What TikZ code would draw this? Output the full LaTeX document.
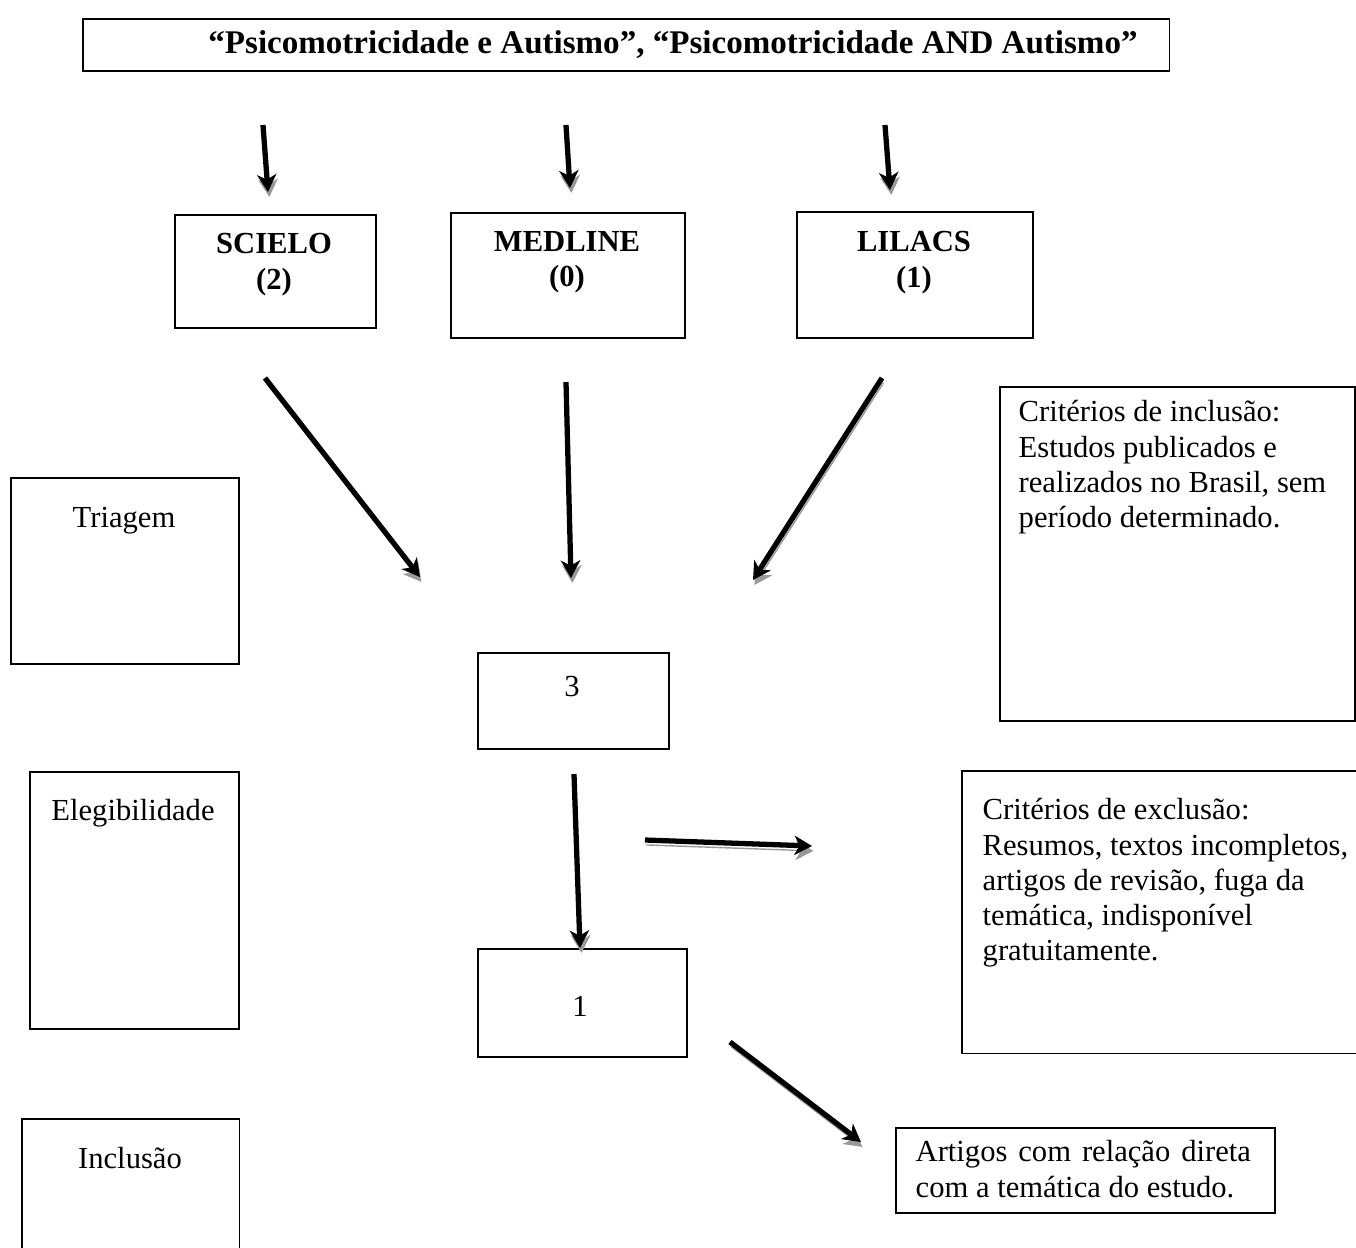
\documentclass[tikz,border=0pt]{standalone}
\usepackage{fontspec}
\setmainfont{Liberation Serif}
\usetikzlibrary{arrows.meta}
\newcommand{\fsz}{\fontsize{8.7}{10}\selectfont}

\begin{document}
\begin{tikzpicture}[x=0.01cm, y=-0.01cm,
    nodes={font=\fsz},
    box/.style={draw, line width=0.5pt, inner sep=0pt, anchor=north west},
    openbox/.style={inner sep=0pt, anchor=north west},
    txt/.style={inner sep=0pt, align=center, anchor=north},
    btxt/.style={txt, font=\fsz\bfseries},
    ltxt/.style={inner sep=0pt, align=left, anchor=north west},
    arr/.style={line width=1.5pt, -{Stealth[length=5pt,width=5.5pt,inset=1.5pt]},
        preaction={draw=black!40, transform canvas={shift={(0.4pt,-1.4pt)}}}}]
    \useasboundingbox (0,0) rectangle (1356,1247);

    % search terms and databases
    \node[box, minimum width=10.86cm, minimum height=0.52cm] (termos) at (82,18) {};
    \node[inner sep=0pt, font=\fontsize{9.4}{11}\selectfont\bfseries] (termostxt) at (673,45)
        {“Psicomotricidade e Autismo”, “Psicomotricidade AND Autismo”};
    \node[box, minimum width=2.01cm, minimum height=1.13cm] (scielo) at (174,214) {};
    \node[box, minimum width=2.34cm, minimum height=1.25cm] (medline) at (450,212) {};
    \node[box, minimum width=2.36cm, minimum height=1.26cm] (lilacs) at (796,211) {};
    \node[btxt] (scielotxt) at (274,233) {SCIELO\\(2)};
    \node[btxt] (medlinetxt) at (567,231) {MEDLINE\\(0)};
    \node[btxt] (lilacstxt) at (914,231) {LILACS\\(1)};

    % stages on the left
    \node[box, minimum width=2.28cm, minimum height=1.86cm] (triagem) at (10,477) {};
    \node[box, minimum width=2.09cm, minimum height=2.57cm] (elegib) at (29,771) {};
    \node[openbox, minimum width=2.16cm, minimum height=1.28cm] (inclusao) at (22,1119) {};
    \draw[line width=0.5pt] (inclusao.south west) -- (inclusao.north west)
        -- (inclusao.north east) -- (inclusao.south east);
    \node[txt] (triagemtxt) at (124,507) {Triagem};
    \node[txt] (elegibtxt) at (133,799) {Elegibilidade};
    \node[txt] (inclusaotxt) at (130,1147) {Inclusão};

    % counts
    \node[box, minimum width=1.91cm, minimum height=0.96cm] (tres) at (477,652) {};
    \node[box, minimum width=2.09cm, minimum height=1.08cm] (um) at (477,948) {};
    \node[txt] (trestxt) at (572,676) {3};
    \node[txt] (umtxt) at (580,996) {1};

    % criteria
    \node[box, minimum width=3.55cm, minimum height=3.34cm] (critinc) at (999,386) {};
    \node[ltxt] (critinctxt) at (1018,400) {Critérios de inclusão:\\Estudos publicados e\\realizados no Brasil, sem\\período determinado.};
    \node[openbox, minimum width=3.94cm, minimum height=2.81cm] (critexc) at (962,771) {};
    \draw[line width=0.5pt] (critexc.north east) -- (critexc.north west)
        -- (critexc.south west) -- (critexc.south east);
    \node[ltxt] (critexctxt) at (982,798) {Critérios de exclusão:\\Resumos, textos incompletos,\\artigos de revisão, fuga da\\temática, indisponível\\gratuitamente.};
    \node[box, minimum width=3.79cm, minimum height=0.85cm] (artigos) at (895,1127) {};
    \node[ltxt] (artigostxt) at (915,1140) {\makebox[3.35cm][s]{Artigos com relação direta}\\com a temática do estudo.};

    % arrow ends
    \coordinate (a1) at (263,125); \coordinate (a2) at (268,192);
    \coordinate (b1) at (566,125); \coordinate (b2) at (570,188);
    \coordinate (c1) at (885,125); \coordinate (c2) at (890,190);
    \coordinate (d1) at (265,378); \coordinate (d2) at (420,577);
    \coordinate (e1) at (566,382); \coordinate (e2) at (571,578);
    \coordinate (f1) at (882,378); \coordinate (f2) at (753,580);
    \coordinate (g1) at (574,774); \coordinate (g2) at (580,948);
    \coordinate (h1) at (645,840); \coordinate (h2) at (812,846);
    \coordinate (k1) at (730,1042); \coordinate (k2) at (861,1142);

    \foreach \p in {a,b,c,d,e,f,g,h,k}
        \draw[arr] (\p1) -- (\p2);
\end{tikzpicture}
\end{document}
